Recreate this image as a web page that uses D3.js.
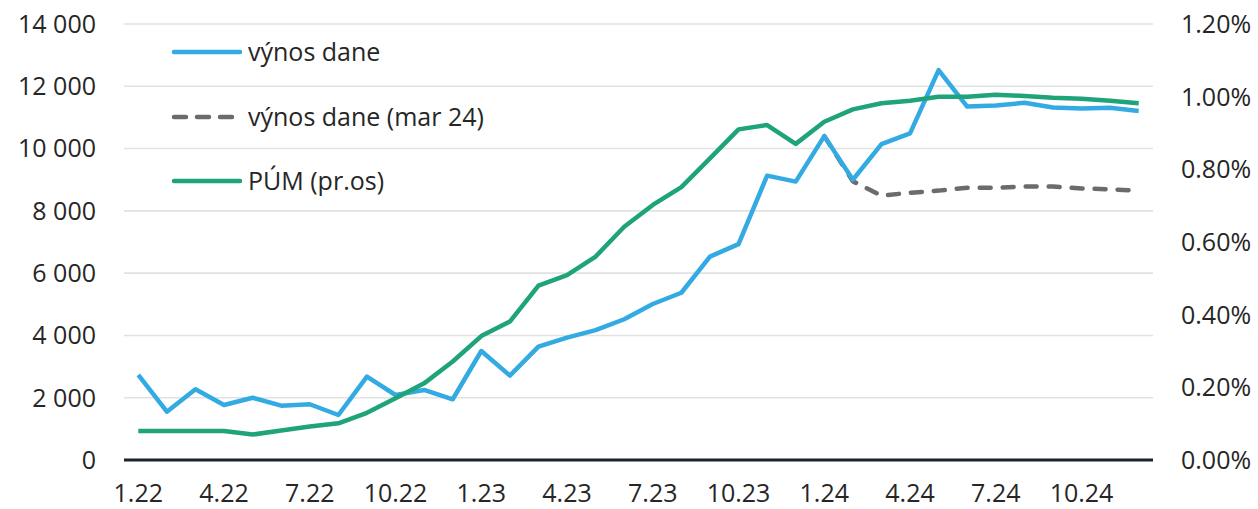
<!DOCTYPE html>
<html><head><meta charset="utf-8">
<script src="https://cdn.jsdelivr.net/npm/d3@7"></script>
<style>
html,body{margin:0;padding:0;background:#fff;}
svg{display:block;font-family:"Open Sans",Lato,sans-serif;}
</style></head>
<body><svg id="c" width="1258" height="509"></svg>
<script>
const months = ["1.22","2.22","3.22","4.22","5.22","6.22","7.22","8.22","9.22","10.22","11.22","12.22",
"1.23","2.23","3.23","4.23","5.23","6.23","7.23","8.23","9.23","10.23","11.23","12.23",
"1.24","2.24","3.24","4.24","5.24","6.24","7.24","8.24","9.24","10.24","11.24","12.24"];
const tickLabels = ["1.22","4.22","7.22","10.22","1.23","4.23","7.23","10.23","1.24","4.24","7.24","10.24"];
const vynosDane = [2730,1550,2270,1766,2000,1745,1790,1445,2675,2087,2250,1950,
3500,2710,3640,3930,4170,4520,5010,5370,6530,6930,9130,8940,
10400,9000,10140,10490,12520,11350,11380,11470,11320,11290,11310,11210];
const vynosDaneMar24 = [null,null,null,null,null,null,null,null,null,null,null,null,
null,null,null,null,null,null,null,null,null,null,null,null,
10400,8950,8490,8580,8650,8745,8745,8780,8780,8720,8690,8650];
const pum = [0.080,0.080,0.080,0.080,0.070,0.081,0.092,0.101,0.130,0.170,0.211,0.271,
0.341,0.381,0.480,0.509,0.560,0.642,0.702,0.751,0.830,0.910,0.922,0.870,
0.931,0.965,0.982,0.989,1.000,1.000,1.005,1.002,0.997,0.994,0.989,0.982];
const leftTicks = [0,2000,4000,6000,8000,10000,12000,14000];
const rightTicks = [0,0.2,0.4,0.6,0.8,1.0,1.2];
const seriesNames = ["výnos dane","výnos dane (mar 24)","PÚM (pr.os)"];

const svg = d3.select("#c");
const L=124, R=1153, T=24, B=460;
const x = d3.scaleBand().domain(months).range([L,R]);
const yL = d3.scaleLinear().domain([0,14000]).range([B,T]);
const yR = d3.scaleLinear().domain([0,1.2]).range([B,T]);
const cx = d => x(d)+x.bandwidth()/2;
const FS = 25;

svg.append("g").selectAll("line").data(leftTicks.filter(d=>d>0)).join("line")
  .attr("x1",L).attr("x2",R).attr("y1",d=>yL(d)).attr("y2",d=>yL(d))
  .attr("stroke","#e2e2e2").attr("stroke-width",1.6);

const fmt = d => d3.format(",")(d).replace(/,/g," ");
svg.append("g").selectAll("text").data(leftTicks).join("text")
  .attr("x",96).attr("y",d=>yL(d)).attr("dy","0.357em").attr("text-anchor","end")
  .attr("font-size",FS).attr("fill","#262626").text(fmt);
svg.append("g").selectAll("text").data(rightTicks).join("text")
  .attr("x",1181).attr("y",d=>yR(d)).attr("dy","0.357em").attr("text-anchor","start")
  .attr("font-size",FS).attr("fill","#262626").text(d=>d3.format(".2f")(d)+"%");
svg.append("g").selectAll("text").data(tickLabels).join("text")
  .attr("x",d=>cx(d)).attr("y",502).attr("text-anchor","middle")
  .attr("font-size",FS).attr("fill","#262626").text(d=>d);

const lineL = d3.line().defined(d=>d.v!=null).x(d=>cx(d.m)).y(d=>yL(d.v));
const lineR = d3.line().x(d=>cx(d.m)).y(d=>yR(d.v));
const toPts = arr => arr.map((v,i)=>({m:months[i],v}));

svg.append("path").attr("d",lineL(toPts(vynosDaneMar24))).attr("fill","none")
  .attr("stroke","#6b6b6b").attr("stroke-width",4.5).attr("stroke-dasharray","11 12").attr("stroke-linecap","round");
svg.append("path").attr("d",lineL(toPts(vynosDane))).attr("fill","none")
  .attr("stroke","#33abe2").attr("stroke-width",4.5).attr("stroke-linejoin","round");
svg.append("path").attr("d",lineR(toPts(pum))).attr("fill","none")
  .attr("stroke","#1fa37b").attr("stroke-width",4.5).attr("stroke-linejoin","round");

svg.append("line").attr("x1",L).attr("x2",R).attr("y1",B).attr("y2",B)
  .attr("stroke","#1b2333").attr("stroke-width",3);

const legY = [52,117,181];
const legStyles = [
  {c:"#33abe2",dash:null},
  {c:"#6b6b6b",dash:"12 11"},
  {c:"#1fa37b",dash:null}];
const lg = svg.append("g");
seriesNames.forEach((n,i)=>{
  lg.append("line").attr("x1",174).attr("x2",240).attr("y1",legY[i]).attr("y2",legY[i])
    .attr("stroke",legStyles[i].c).attr("stroke-width",4.5).attr("stroke-linecap","round")
    .attr("stroke-dasharray",legStyles[i].dash);
  lg.append("text").attr("x",248).attr("y",legY[i]).attr("dy","0.36em")
    .attr("font-size",FS).attr("fill","#262626").text(n);
});
</script></body></html>
